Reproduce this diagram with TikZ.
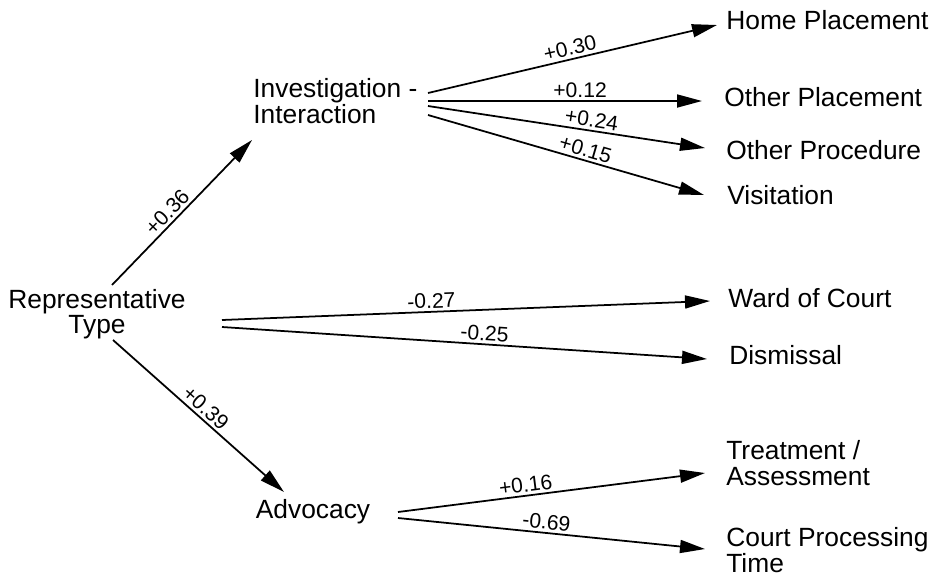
\documentclass[tikz,border=0pt]{standalone}
\usepackage{fontspec}
\setmainfont{Liberation Sans}
\usepackage{tikz}
\usetikzlibrary{arrows.meta,positioning,calc}

\begin{document}
\begin{tikzpicture}[
  x=0.02cm, y=-0.02cm,
  var/.style={font=\fontsize{15}{14.5}\selectfont, inner sep=0pt},
  wt/.style={font=\fontsize{12}{12}\selectfont, inner sep=1.5pt, sloped, above},
  arr/.style={-{Triangle[length=0.5cm, width=0.26cm]}, line width=1pt},
]
\useasboundingbox (0,0) rectangle (938,576);

% sources
\node[var, align=center] (rep) at (97, 314) {Representative\\Type};
\node[var, align=left, anchor=west] (inv) at (253, 101) {Investigation -\\Interaction};
\node[var] (adv) at (313, 512) {Advocacy};

% outcomes
\node[var, anchor=west] (home) at (726, 20) {Home Placement};
\node[var, anchor=west] (othpl) at (724, 97) {Other Placement};
\node[var, anchor=west] (othpr) at (726, 150) {Other Procedure};
\node[var, anchor=west] (visit) at (727, 195) {Visitation};
\node[var, anchor=west] (ward) at (728, 298) {Ward of Court};
\node[var, anchor=west] (dism) at (729, 355) {Dismissal};
\node[var, anchor=west, align=left] (treat) at (726, 463) {Treatment /\\Assessment};
\node[var, anchor=west, align=left] (court) at (726, 550) {Court Processing\\Time};

\draw[arr] ($(rep)+(15,-29)$) -- node[wt, pos=0.45] {+0.36} ($(inv.west)+(-1,39)$);
\draw[arr] ($(rep)+(16,26)$) -- node[wt, pos=0.5] {+0.39} ($(adv)+(-29,-20)$);
\draw[arr] ($(rep)+(125,6)$) -- node[wt, pos=0.43] {-0.27} ($(ward.west)+(-18,3)$);
\draw[arr] ($(rep)+(125,13)$) -- node[wt, pos=0.54] {-0.25} ($(dism.west)+(-22,4)$);

\draw[arr] ($(inv.west)+(175,-8)$) -- node[wt, pos=0.5] {+0.30} ($(home.west)+(-9,5)$);
\draw[arr] ($(inv.west)+(175,0)$) -- node[wt, pos=0.555] {+0.12} ($(othpl.west)+(-22,4)$);
\draw[arr] ($(inv.west)+(175,5)$) -- node[wt, pos=0.585] {+0.24} ($(othpr.west)+(-21,-2)$);
\draw[arr] ($(inv.west)+(175,14)$) -- node[wt, pos=0.56] {+0.15} ($(visit.west)+(-23,0)$);

\draw[arr] ($(adv)+(85,0)$) -- node[wt, pos=0.42] {+0.16} ($(treat.west)+(-21,10)$);
\draw[arr] ($(adv)+(85,6)$) -- node[wt, pos=0.48] {-0.69} ($(court.west)+(-21,-1)$);

\end{tikzpicture}
\end{document}
